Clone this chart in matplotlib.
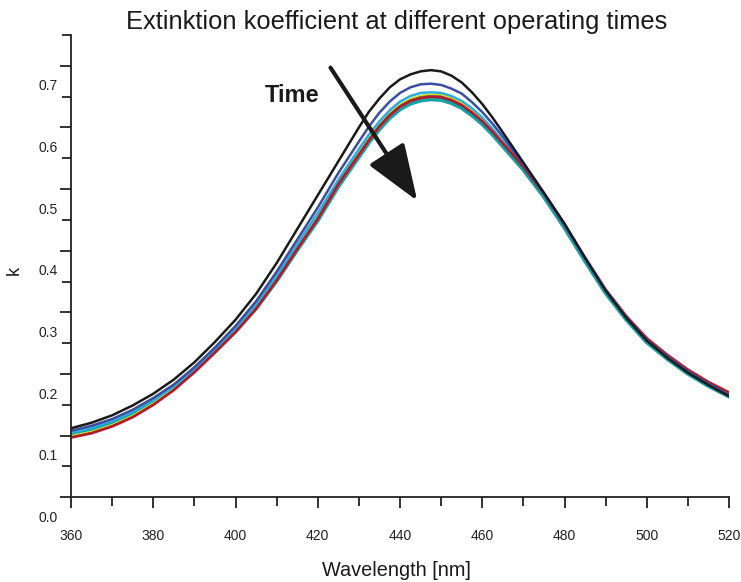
import numpy as np
import matplotlib
matplotlib.use("Agg")
import matplotlib.pyplot as plt
import matplotlib.transforms as mtransforms
from matplotlib.ticker import MultipleLocator

plt.rcParams['font.family'] = ['Liberation Sans', 'DejaVu Sans']

# wavelength grid (nm), denser around the peak
wavelength = [360, 365, 370, 375, 380, 385, 390, 395, 400, 405, 410, 415, 420, 425,
              430, 432.5, 435, 437.5, 440, 442.5, 445, 447.5, 450, 452.5, 455, 457.5,
              460, 462.5, 465,
              470, 475, 480, 485, 490, 495, 500, 505, 510, 515, 520]

# extinction coefficient k, one list per operating time
k_black = [0.112, 0.121, 0.133, 0.149, 0.168, 0.191, 0.219, 0.252, 0.288, 0.330,
           0.380, 0.435, 0.490, 0.545,
           0.600, 0.626, 0.647, 0.665, 0.678, 0.686, 0.691, 0.693, 0.691, 0.684,
           0.673, 0.657, 0.638, 0.616, 0.592,
           0.543, 0.494, 0.444, 0.388, 0.335, 0.291, 0.254, 0.226, 0.202, 0.182, 0.164]
k_blue = [0.108, 0.116, 0.127, 0.142, 0.161, 0.183, 0.211, 0.243, 0.278, 0.318,
          0.366, 0.418, 0.470, 0.526,
          0.577, 0.602, 0.624, 0.642, 0.656, 0.665, 0.670, 0.671, 0.669, 0.663,
          0.655, 0.641, 0.625, 0.606, 0.585,
          0.540, 0.493, 0.443, 0.388, 0.336, 0.292, 0.255, 0.228, 0.204, 0.184, 0.166]
k_lightblue = [0.105, 0.113, 0.124, 0.139, 0.158, 0.180, 0.208, 0.240, 0.274, 0.313,
               0.360, 0.411, 0.461, 0.515,
               0.565, 0.589, 0.610, 0.628, 0.642, 0.651, 0.656, 0.657, 0.656, 0.651,
               0.643, 0.631, 0.616, 0.598, 0.578,
               0.537, 0.491, 0.441, 0.387, 0.335, 0.291, 0.254, 0.227, 0.203, 0.183, 0.165]
k_yellow = [0.100, 0.107, 0.118, 0.133, 0.153, 0.177, 0.206, 0.238, 0.271, 0.309,
            0.355, 0.406, 0.455, 0.511,
            0.560, 0.584, 0.606, 0.624, 0.638, 0.647, 0.652, 0.654, 0.653, 0.648,
            0.640, 0.628, 0.613, 0.595, 0.576,
            0.537, 0.492, 0.442, 0.389, 0.337, 0.294, 0.257, 0.230, 0.206, 0.186, 0.169]
k_green = [0.099, 0.106, 0.117, 0.132, 0.152, 0.176, 0.205, 0.237, 0.270, 0.308,
           0.354, 0.405, 0.454, 0.510,
           0.559, 0.583, 0.605, 0.623, 0.637, 0.646, 0.651, 0.653, 0.652, 0.647,
           0.639, 0.627, 0.612, 0.594, 0.575,
           0.536, 0.491, 0.441, 0.388, 0.336, 0.293, 0.256, 0.229, 0.205, 0.185, 0.168]
k_teal = [0.101, 0.109, 0.120, 0.135, 0.154, 0.177, 0.205, 0.237, 0.270, 0.307,
          0.352, 0.402, 0.450, 0.505,
          0.553, 0.577, 0.598, 0.616, 0.630, 0.639, 0.644, 0.646, 0.645, 0.640,
          0.632, 0.620, 0.606, 0.589, 0.570,
          0.532, 0.488, 0.438, 0.384, 0.332, 0.289, 0.252, 0.225, 0.201, 0.181, 0.164]
k_red = [0.097, 0.104, 0.115, 0.130, 0.150, 0.174, 0.203, 0.235, 0.268, 0.306,
         0.352, 0.403, 0.452, 0.508,
         0.556, 0.580, 0.602, 0.620, 0.634, 0.643, 0.648, 0.650, 0.649, 0.644,
         0.636, 0.624, 0.610, 0.593, 0.574,
         0.536, 0.492, 0.442, 0.389, 0.337, 0.294, 0.258, 0.231, 0.207, 0.187, 0.170]

fig = plt.figure(figsize=(7.41, 5.82), dpi=100)
ax = fig.add_axes([71/741, 1-497.3/582, (729-71)/741, (497.3-35)/582])

ax.plot(wavelength, k_teal, color='#12a3a6', lw=3.2)
ax.plot(wavelength, k_green, color='#2e9a48', lw=1.2)
ax.plot(wavelength, k_yellow, color='#e6dc2a', lw=1.0)
ax.plot(wavelength, k_lightblue, color='#2aaedc', lw=1.8)
ax.plot(wavelength, k_red, color='#b01c2c', lw=2.0)
ax.plot(wavelength, k_blue, color='#3a4ea2', lw=1.8)
ax.plot(wavelength, k_black, color='#1a1a1a', lw=1.8)

ax.set_xlim(360, 520)
ax.set_ylim(0, 0.75)
for side in ['top', 'right']:
    ax.spines[side].set_visible(False)
for side in ['left', 'bottom']:
    ax.spines[side].set_color('#222222')
    ax.spines[side].set_linewidth(1.3)

ax.xaxis.set_major_locator(MultipleLocator(20))
ax.xaxis.set_minor_locator(MultipleLocator(10))
ax.set_yticks(np.arange(0, 0.71, 0.1))
ax.yaxis.set_minor_locator(MultipleLocator(0.05))
ax.set_yticklabels(['%.1f' % v for v in np.arange(0, 0.71, 0.1)])

ax.tick_params(axis='both', which='both', direction='out', color='#222222', width=1.3,
               labelsize=10, labelcolor='#222222')
ax.tick_params(axis='both', which='major', length=8)
ax.tick_params(axis='both', which='minor', length=6.5)
ax.tick_params(axis='x', which='major', pad=14.5)
ax.tick_params(axis='y', which='major', pad=1.5)

# the y labels sit below their tick marks in the original
shift = mtransforms.ScaledTranslation(0, -19/100, fig.dpi_scale_trans)
for lbl in ax.get_yticklabels():
    lbl.set_transform(lbl.get_transform() + shift)

fig.text(397/741, 1-22/582, 'Extinktion koefficient at different operating times',
         ha='center', va='center', fontsize=18.4, color='#1a1a1a')
fig.text(396/741, 1-570/582, 'Wavelength [nm]', ha='center', va='center',
         fontsize=14.3, color='#1a1a1a')
fig.text(14/741, 1-270/582, 'k', ha='center', va='center', rotation=90,
         fontsize=13, color='#1a1a1a')

ax.text(413.8, 0.652, 'Time', fontsize=17, fontweight='bold',
        ha='center', va='center', color='#1a1a1a')

# Time arrow
ax.annotate('', xy=(444.2, 0.481), xytext=(423.1, 0.697),
            arrowprops=dict(arrowstyle='-|>,head_length=1.75,head_width=0.65',
                            lw=3, color='#1a1a1a', mutation_scale=20,
                            shrinkA=0, shrinkB=0))

fig.savefig('out.png', dpi=100)
